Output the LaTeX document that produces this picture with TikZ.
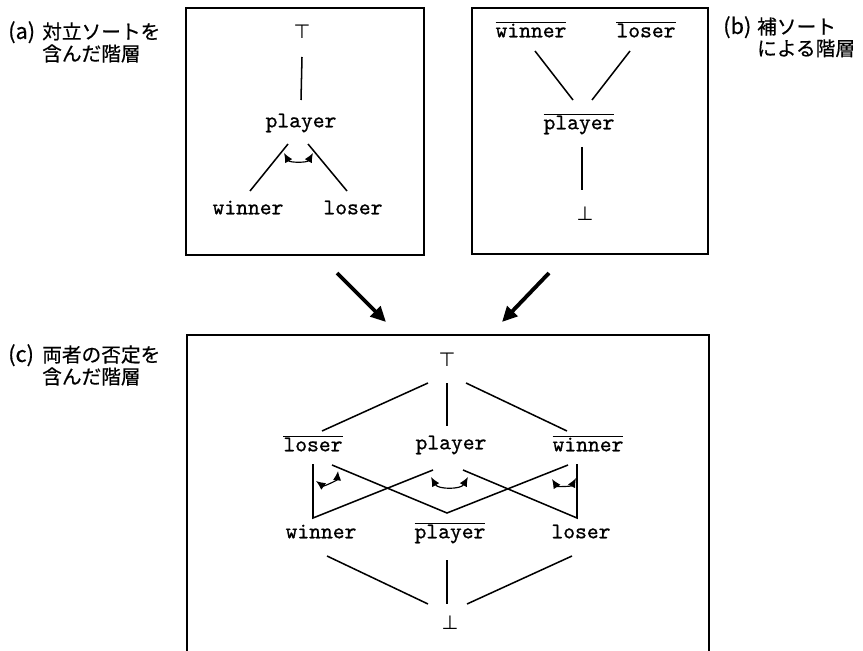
\documentclass[tikz,border=0pt]{standalone}
\usepackage{fontspec}
\newfontface\jpfont{Noto Sans CJK JP}[FakeBold=0.5]
\newfontfamily\limfont{DejaVu Sans}
\newfontface\sortfont{lmmono10-regular.otf}[FakeBold=0.8]
\usetikzlibrary{calc,positioning,arrows.meta}
\newcommand{\compl}[1]{$\overline{\hbox{#1}}$}
\newcommand{\tagbox}[1]{\makebox[29pt][l]{\fontsize{18.5}{14}\selectfont#1}}
\tikzset{
sortname/.style={
  font=\sortfont\fontsize{19.2}{20}\selectfont,
  inner sep=0pt,
  text height=1.7ex,
  text depth=0pt
  },
limit/.style={
  font=\limfont\fontsize{16.5}{16}\selectfont,
  inner sep=0pt
  },
link/.style={line width=1.3pt},
panel/.style={line width=1.2pt},
paneltitle/.style={
  font=\jpfont\fontsize{16.8}{14}\selectfont,
  align=left,
  inner sep=0pt,
  anchor=north west
  },
opparc/.style={{Latex[length=8pt,width=7pt]}-{Latex[length=8pt,width=7pt]},line width=1pt},
bigarrow/.style={line width=3.3pt,-{Triangle[length=13pt,width=12pt]}}
}

\begin{document}
\begin{tikzpicture}[x=0.03cm,y=-0.03cm,>=latex]
\useasboundingbox (0,0) rectangle (863,651);

% (a) opposite sorts
\draw[panel] (186,8) rectangle (424,255);
\node[paneltitle] (capa) at (8,21) {\tagbox{(a)}対立ソートを\\\tagbox{}含んだ階層};
\node[limit] (atop) at (302,32) {⊤};
\node[sortname] (aplayer) at (301,123) {player};
\node[sortname] (awinner) at (248,210) {winner};
\node[sortname] (aloser) at (353,210) {loser};
\draw[link] ($(atop)+(0,25)$) -- ($(aplayer)+(0,-23)$);
\draw[link] ($(aplayer)+(-13,21)$) -- ($(awinner)+(2,-19)$);
\draw[link] ($(aplayer)+(7,21)$) -- ($(aloser)+(-6,-19)$);
\draw[opparc] ($(aplayer)+(-17,30)$) to[bend right=60] ($(aplayer)+(12,30)$);

% (b) complement sorts
\draw[panel] (472,8) rectangle (708,254);
\node[paneltitle] (capb) at (723,16) {\tagbox{(b)}補ソート\\\tagbox{}による階層};
\node[sortname] (bwinner) at (531,33) {\compl{winner}};
\node[sortname] (bloser) at (646,33) {\compl{loser}};
\node[sortname] (bplayer) at (579,125) {\compl{player}};
\node[limit] (bbot) at (585,214) {⊥};
\draw[link] ($(bwinner)+(4,18)$) -- ($(bplayer)+(-6,-25)$);
\draw[link] ($(bloser)+(-16,18)$) -- ($(bplayer)+(13,-25)$);
\draw[link] ($(bplayer)+(3,22)$) -- ($(bbot)+(-3,-24)$);

% arrows into (c)
\coordinate (froma) at (337,273);
\coordinate (intoa) at (386,322);
\coordinate (fromb) at (549,273);
\coordinate (intob) at (502,322);
\draw[bigarrow] (froma) -- (intoa);
\draw[bigarrow] (fromb) -- (intob);

% (c) both negations
\draw[panel] (187,660) -- (187,335) -- (709,335) -- (709,660);
\node[paneltitle] (capc) at (8,344) {\tagbox{(c)}両者の否定を\\\tagbox{}含んだ階層};
\node[limit] (ctop) at (447,360) {⊤};
\node[sortname] (closerbar) at (313,447) {\compl{loser}};
\node[sortname] (cplayer) at (451,445) {player};
\node[sortname] (cwinnerbar) at (588,447) {\compl{winner}};
\node[sortname] (cwinner) at (321,534) {winner};
\node[sortname] (cplayerbar) at (450,534) {\compl{player}};
\node[sortname] (closer) at (581,534) {loser};
\node[limit] (cbot) at (450,623) {⊥};
\draw[link] ($(ctop)+(-19,23)$) -- ($(closerbar)+(9,-16)$);
\draw[link] ($(ctop)+(0,23)$) -- ($(cplayer)+(-4,-19)$);
\draw[link] ($(ctop)+(19,23)$) -- ($(cwinnerbar)+(-21,-16)$);
\draw[link] ($(closerbar)+(0,17)$) -- ($(cwinner)+(-8,-16)$) -- ($(cplayer)+(-18,25)$);
\draw[link] ($(closerbar)+(19,18)$) -- ($(cplayerbar)+(-3,-21)$) -- ($(cwinnerbar)+(-20,18)$);
\draw[link] ($(cplayer)+(12,25)$) -- ($(closer)+(-4,-16)$) -- ($(cwinnerbar)+(-11,17)$);
\draw[opparc] ($(closerbar)+(3,34)$) to[bend right=60] ($(closerbar)+(25,24)$);
\draw[opparc] ($(cplayer)+(-20,32)$) to[bend right=60] ($(cplayer)+(17,32)$);
\draw[opparc] ($(cwinnerbar)+(-36,32)$) to[bend right=60] ($(cwinnerbar)+(-12,31)$);
\draw[link] ($(cwinner)+(6,22)$) -- ($(cbot)+(-22,-19)$);
\draw[link] ($(cplayerbar)+(-3,26)$) -- ($(cbot)+(-3,-19)$);
\draw[link] ($(closer)+(-9,22)$) -- ($(cbot)+(17,-19)$);
\end{tikzpicture}
\end{document}
